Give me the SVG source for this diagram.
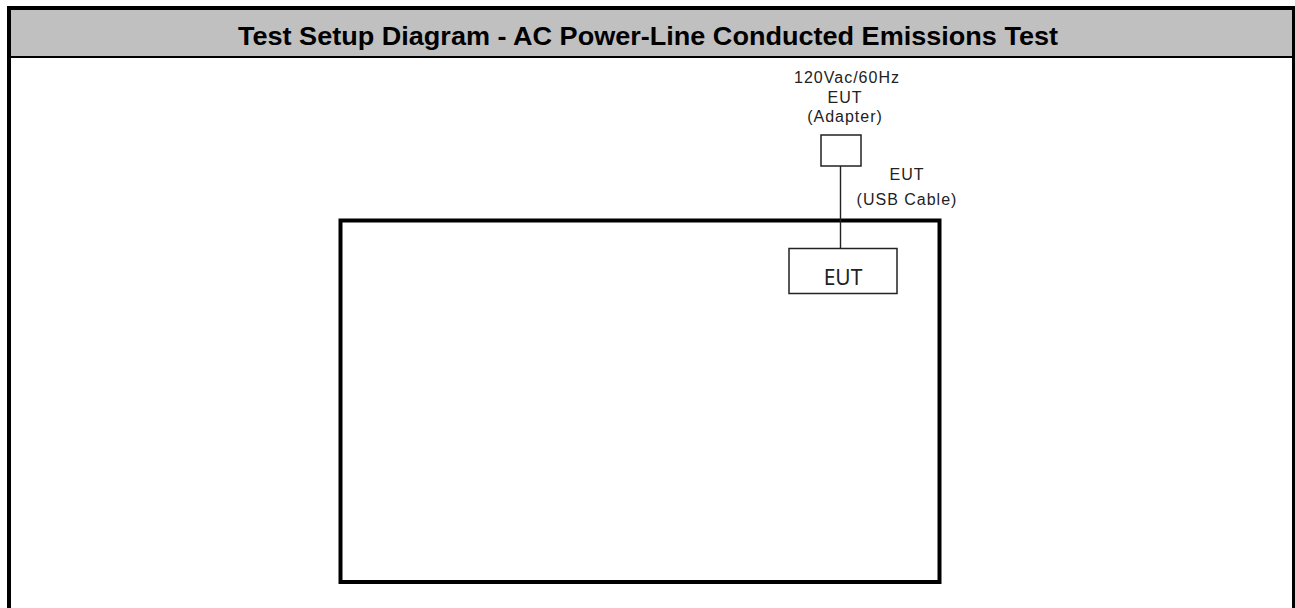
<svg xmlns="http://www.w3.org/2000/svg" width="1295" height="608" viewBox="0 0 1295 608">
  <style>
    .lbl { font-family: "Liberation Sans", Arial, sans-serif; font-size: 16px; letter-spacing: 1px; fill: #222; text-anchor: middle; }
    .box { fill: #fff; stroke: #222; stroke-width: 1.5; }
    .wire { stroke: #222; stroke-width: 1.4; fill: none; }
  </style>
  <rect x="0" y="0" width="1295" height="608" fill="#fff"/>
  <g id="frame">
    <rect x="9" y="8" width="1285" height="700" fill="#fff" stroke="#000" stroke-width="4"/>
    <rect x="11" y="10" width="1281" height="46" fill="#c0c0c0"/>
    <line x1="9" y1="57" x2="1294" y2="57" stroke="#000" stroke-width="2"/>
    <text x="648" y="45" text-anchor="middle" font-family="'Liberation Sans', Arial, sans-serif" font-weight="bold" font-size="25" textLength="820" lengthAdjust="spacingAndGlyphs" fill="#000">Test Setup Diagram - AC Power-Line Conducted Emissions Test</text>
  </g>
  <g id="table">
    <rect x="340.5" y="220.5" width="599" height="361.5" fill="none" stroke="#000" stroke-width="4"/>
  </g>
  <g id="connectors">
    <line class="wire" x1="840.5" y1="166" x2="840.5" y2="248"/>
  </g>
  <g id="adapter">
    <rect class="box" x="821" y="135" width="40" height="31"/>
    <text class="lbl" x="847" y="83">120Vac/60Hz</text>
    <text class="lbl" x="845" y="103">EUT</text>
    <text class="lbl" x="845" y="122">(Adapter)</text>
  </g>
  <g id="cable-label">
    <text class="lbl" x="907" y="180">EUT</text>
    <text class="lbl" x="907" y="205">(USB Cable)</text>
  </g>
  <g id="eut">
    <rect class="box" x="789" y="248.5" width="108" height="45"/>
    <text x="843" y="285" text-anchor="middle" font-family="'Noto Sans', sans-serif" font-size="21" fill="#222">EUT</text>
  </g>
</svg>
